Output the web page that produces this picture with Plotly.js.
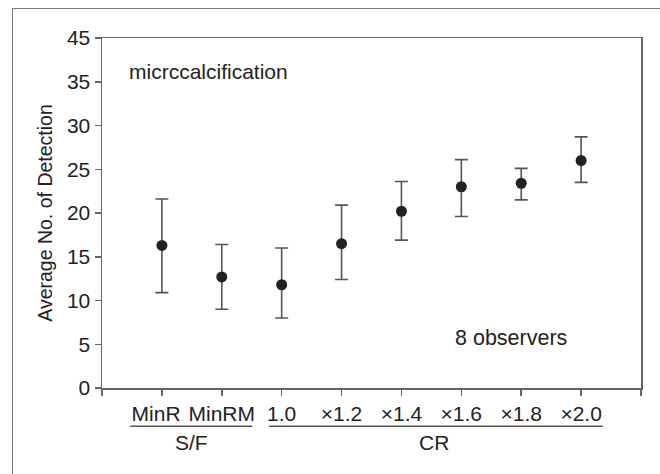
<!DOCTYPE html>
<html>
<head>
<meta charset="utf-8">
<script src="https://cdn.plot.ly/plotly-3.0.1.min.js"></script>
<style>
  body { margin: 0; padding: 0; background: #fff; }
  #wrap { position: relative; width: 660px; height: 474px; overflow: hidden; }
  #chart { width: 660px; height: 474px; }
  #frame { position: absolute; left: 12px; top: 8px; width: 700px; height: 500px;
           border-left: 1.5px solid #777; border-top: 1.5px solid #777; pointer-events: none; }
</style>
</head>
<body>
<div id="wrap">
  <div id="chart"></div>
  <div id="frame"></div>
</div>
<script>
// Categories and tick labels
const categories = ['MinR\u00a0\u00a0', 'MinRM', '1.0', '\u00d71.2', '\u00d71.4', '\u00d71.6', '\u00d71.8', '\u00d72.0'];
const positions = [1, 2, 3, 4, 5, 6, 7, 8];
// Mean values and error bar limits
const means = [16.3, 12.7, 11.8, 16.5, 20.2, 23.0, 23.4, 26.0];
const upper = [21.6, 16.4, 16.0, 20.9, 23.6, 26.1, 25.1, 28.7];
const lower = [10.9, 9.0, 8.0, 12.4, 16.9, 19.6, 21.5, 23.5];
// Y ticks (the top tick is printed "45" in the original)
const yTickVals = [0, 5, 10, 15, 20, 25, 30, 35, 40];
const yTickText = ['0', '5', '10', '15', '20', '25', '30', '35', '45'];

const errPlus = means.map((m, i) => upper[i] - m);
const errMinus = means.map((m, i) => m - lower[i]);

const font = 'Liberation Sans, Arial, Helvetica, sans-serif';

const trace = {
  x: positions,
  y: means,
  type: 'scatter',
  mode: 'markers',
  marker: { size: 11, color: '#222' },
  error_y: {
    type: 'data', symmetric: false,
    array: errPlus, arrayminus: errMinus,
    color: '#555', thickness: 1.6, width: 6.5
  },
  hoverinfo: 'skip'
};

const layout = {
  width: 660, height: 474,
  margin: { l: 102, r: 19, t: 38, b: 86 },
  paper_bgcolor: 'rgba(0,0,0,0)',
  plot_bgcolor: 'rgba(0,0,0,0)',
  showlegend: false,
  font: { family: font, size: 20, color: '#222' },
  xaxis: {
    range: [0, 9],
    tickvals: [0].concat(positions, [9]),
    ticktext: [''].concat(categories, ['']),
    tickangle: 0,
    ticks: 'outside', ticklen: 6, tickwidth: 1.5, tickcolor: '#666',
    showline: true, linecolor: '#666', linewidth: 1.5, mirror: true,
    showgrid: false, zeroline: false,
    tickfont: { family: font, size: 21, color: '#222' }
  },
  yaxis: {
    range: [0, 40],
    tickvals: yTickVals, ticktext: yTickText,
    ticks: 'outside', ticklen: 6, tickwidth: 1.5, tickcolor: '#666',
    showline: true, linecolor: '#666', linewidth: 1.5, mirror: true,
    showgrid: false, zeroline: false,
    tickfont: { family: font, size: 21, color: '#222' },
    title: { text: 'Average No. of Detection', font: { family: font, size: 19.5, color: '#222' }, standoff: 9 }
  },
  annotations: [
    { x: 0.42, y: 36.2, xref: 'x', yref: 'y', xanchor: 'left', yanchor: 'middle',
      text: 'micrccalcification', showarrow: false, font: { family: font, size: 21, color: '#222' } },
    { x: 5.86, y: 5.7, xref: 'x', yref: 'y', xanchor: 'left', yanchor: 'middle',
      text: '8 observers', showarrow: false, font: { family: font, size: 21.5, color: '#222' } },
    { x: 1.5, y: -0.155, xref: 'x', yref: 'paper', xanchor: 'center', yanchor: 'middle',
      text: 'S/F', showarrow: false, font: { family: font, size: 21, color: '#222' } },
    { x: 5.55, y: -0.155, xref: 'x', yref: 'paper', xanchor: 'center', yanchor: 'middle',
      text: 'CR', showarrow: false, font: { family: font, size: 21, color: '#222' } }
  ],
  shapes: [
    { type: 'line', xref: 'x', yref: 'paper', x0: 0.47, x1: 2.51, y0: -0.109, y1: -0.109,
      line: { color: '#555', width: 1.5 } },
    { type: 'line', xref: 'x', yref: 'paper', x0: 2.79, x1: 8.36, y0: -0.109, y1: -0.109,
      line: { color: '#555', width: 1.5 } }
  ]
};

Plotly.newPlot('chart', [trace], layout, { staticPlot: true, displayModeBar: false });
</script>
</body>
</html>
